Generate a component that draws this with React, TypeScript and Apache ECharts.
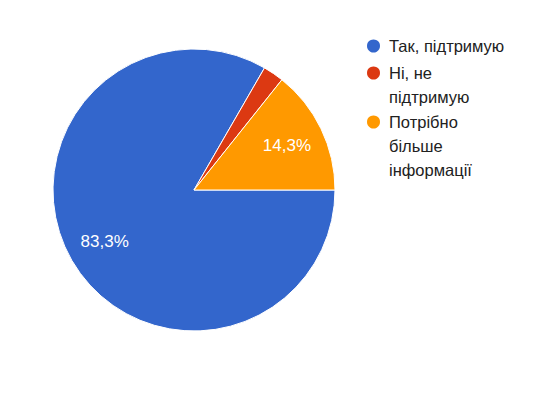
import React, { useEffect, useRef } from "react";
import * as echarts from "echarts";

const categories = ["Так, підтримую", "Ні, не підтримую", "Потрібно більше інформації"];
const legendLines = [["Так, підтримую"], ["Ні, не", "підтримую"], ["Потрібно", "більше", "інформації"]];
const counts = [35, 1, 6];
const colors = ["#3366cc", "#dc3912", "#ff9900"];

export default function App() {
  const ref = useRef<HTMLDivElement>(null);
  useEffect(() => {
    if (!ref.current) return;
    const chart = echarts.init(ref.current, undefined, { renderer: "svg" });
    const total = counts.reduce((a, b) => a + b, 0);
    const pct = (v: number) => ((v / total) * 100).toFixed(1).replace(".", ",") + "%";
    const R = 141;
    const center = [194, 190];
    const font = "Arial, 'Liberation Sans', sans-serif";
    const lineH = 24;
    const legendCenters = [46, 73, 122];
    const legends = categories.map((name, i) => {
      const lines = legendLines[i];
      const pad = new Array(lines.length - 1).fill("");
      const text = pad.concat(lines).join("\n");
      const nLines = lines.length * 2 - 1;
      const blockH = nLines * lineH;
      return {
        orient: "vertical",
        left: 365,
        top: legendCenters[i] - blockH / 2,
        padding: 0,
        icon: "circle",
        itemWidth: 15,
        itemHeight: 15,
        itemGap: 0,
        selectedMode: false,
        data: [name],
        formatter: () => text,
        textStyle: {
          fontFamily: font,
          fontSize: 16.5,
          color: "#212121",
          lineHeight: lineH,
          padding: [0, 0, 0, 3],
        },
      };
    });
    chart.setOption({
      animation: false,
      color: colors,
      legend: legends,
      series: [
        {
          type: "pie",
          center,
          radius: [0, R],
          startAngle: 0,
          clockwise: true,
          silent: true,
          itemStyle: { borderColor: "#ffffff", borderWidth: 1 },
          label: { show: false },
          labelLine: { show: false },
          data: categories.map((name, i) => ({ name, value: counts[i] })),
        },
        {
          type: "pie",
          center,
          radius: [0, R * 1.42],
          startAngle: 0,
          clockwise: true,
          silent: true,
          itemStyle: { color: "rgba(0,0,0,0)" },
          label: {
            show: true,
            position: "inside",
            color: "#ffffff",
            fontFamily: font,
            fontSize: 17,
            formatter: (p: any) => pct(p.value),
          },
          labelLine: { show: false },
          data: categories.map((name, i) => ({
            name,
            value: counts[i],
            label: { show: counts[i] / total > 0.05 },
          })),
        },
      ],
    });
    return () => chart.dispose();
  }, []);
  return <div ref={ref} style={{ width: 537, height: 393, margin: -8 }} />;
}
